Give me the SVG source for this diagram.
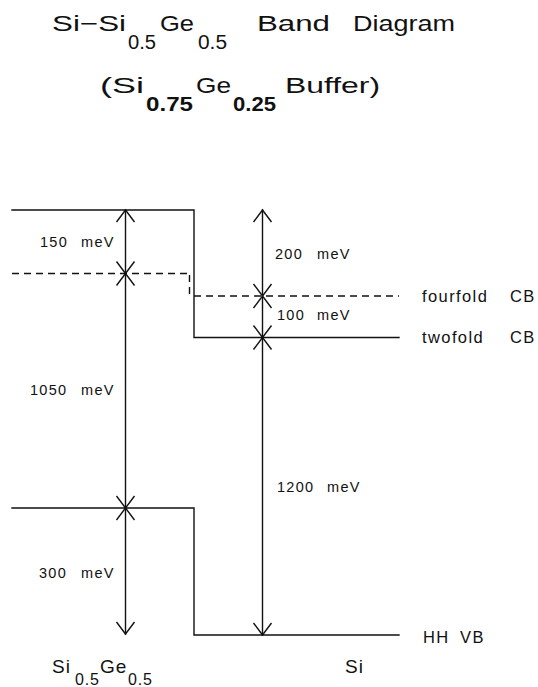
<svg xmlns="http://www.w3.org/2000/svg" width="538" height="687" viewBox="0 0 538 687">
<style>
.ln{fill:none;stroke:#111;stroke-width:1.4;stroke-linecap:square}
.ds{fill:none;stroke:#111;stroke-width:1.4;stroke-dasharray:7 5}
.ar{fill:none;stroke:#111;stroke-width:1.4;stroke-linejoin:miter}
text{font-family:"Liberation Sans","DejaVu Sans",Arial,sans-serif;fill:#111}
.t{font-size:22px}
.s{font-size:20px}
.l{font-size:14.5px;letter-spacing:1.3px}
.b{font-size:16.5px;letter-spacing:1.4px}
.a{font-size:19px;letter-spacing:1px}
.as{font-size:16px;letter-spacing:0.8px}
</style>
<rect width="538" height="687" fill="#fff"/>
<g id="title">
<text class="t" x="52" y="31" textLength="74" lengthAdjust="spacingAndGlyphs">Si−Si</text>
<text class="s" x="128" y="48.5" textLength="28" lengthAdjust="spacingAndGlyphs">0.5</text>
<text class="t" x="160" y="31" textLength="34" lengthAdjust="spacingAndGlyphs">Ge</text>
<text class="s" x="198" y="48.5" textLength="29" lengthAdjust="spacingAndGlyphs">0.5</text>
<text class="t" x="257" y="31" textLength="73" lengthAdjust="spacingAndGlyphs">Band</text>
<text class="t" x="353" y="31" textLength="102" lengthAdjust="spacingAndGlyphs">Diagram</text>
<text class="t" x="100" y="93" textLength="44" lengthAdjust="spacingAndGlyphs">(Si</text>
<text class="s" x="146" y="111" font-weight="bold" textLength="47" lengthAdjust="spacingAndGlyphs">0.75</text>
<text class="t" x="196" y="93" textLength="35" lengthAdjust="spacingAndGlyphs">Ge</text>
<text class="s" x="233" y="111" font-weight="bold" textLength="43" lengthAdjust="spacingAndGlyphs">0.25</text>
<text class="t" x="285" y="93" textLength="95" lengthAdjust="spacingAndGlyphs">Buffer)</text>
</g>
<g id="bands">
<path class="ln" d="M12 210 H194 V337.5 H399"/>
<path class="ln" d="M12 508 H194 V635 H399"/>
<path class="ds" d="M12 273.5 H188"/>
<path class="ds" d="M189.5 275 V296" stroke-dasharray="5 4"/>
<path class="ds" d="M194 296 H399"/>
</g>
<g id="connectors">
<path class="ln" d="M125.5 210 V634"/>
<path class="ar" d="M116.5 222 L125.5 210 L134.5 222"/>
<path class="ar" d="M116.5 261.5 L134.5 285.5 M134.5 261.5 L116.5 285.5"/>
<path class="ar" d="M116.5 496 L134.5 520 M134.5 496 L116.5 520"/>
<path class="ar" d="M116.5 622 L125.5 634 L134.5 622"/>
<path class="ln" d="M262.5 210 V635"/>
<path class="ar" d="M253.5 222 L262.5 210 L271.5 222"/>
<path class="ar" d="M253.5 284 L271.5 308 M271.5 284 L253.5 308"/>
<path class="ar" d="M253.5 325.5 L271.5 349.5 M271.5 325.5 L253.5 349.5"/>
<path class="ar" d="M253.5 623 L262.5 635 L271.5 623"/>
</g>
<g id="labels">
<text class="l" x="40" y="247">150</text><text class="l" x="81" y="247">meV</text>
<text class="l" x="275" y="258.5">200</text><text class="l" x="317" y="258.5">meV</text>
<text class="l" x="277" y="319.5">100</text><text class="l" x="317" y="319.5">meV</text>
<text class="l" x="30" y="395">1050</text><text class="l" x="81" y="395">meV</text>
<text class="l" x="277" y="492">1200</text><text class="l" x="327" y="492">meV</text>
<text class="l" x="39" y="577.5">300</text><text class="l" x="81" y="577.5">meV</text>
<text class="b" x="422" y="301.5">fourfold</text><text class="b" x="510" y="301.5">CB</text>
<text class="b" x="422" y="343">twofold</text><text class="b" x="510" y="343">CB</text>
<text class="b" x="423" y="642.5">HH</text><text class="b" x="460" y="642.5">VB</text>
<text class="a" x="345" y="673">Si</text>
<text class="a" x="52" y="673">Si</text>
<text class="as" x="75" y="685">0.5</text>
<text class="a" x="100" y="673">Ge</text>
<text class="as" x="128" y="685">0.5</text>
</g>
</svg>
